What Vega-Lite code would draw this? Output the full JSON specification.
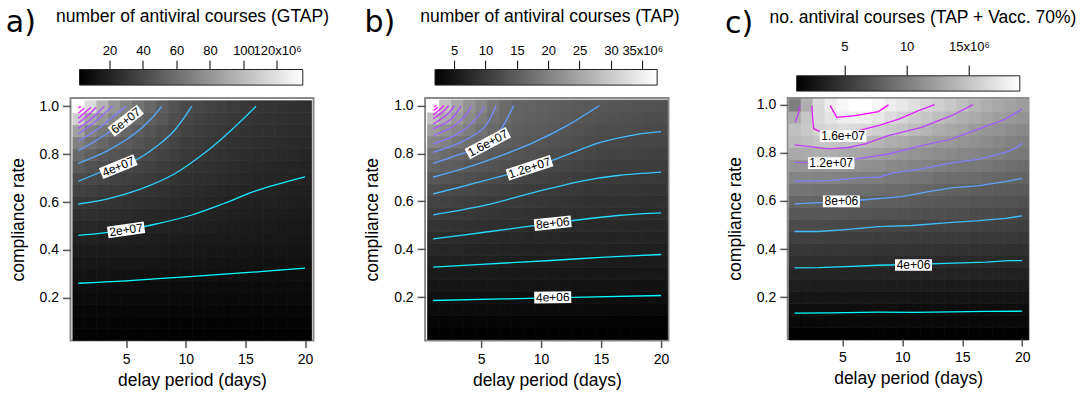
{
"$schema":"https://vega.github.io/schema/vega-lite/v6.json",
"background":"white",
"padding":{"left":5.5,"top":6.5,"right":4,"bottom":4},
"bounds":"flush",
"align":"each",
"columns":3,
"spacing":{"row":6.4,"column":111.6},
"resolve":{"scale":{"color":"independent","stroke":"independent"}},
"config":{"font":"Liberation Sans","view":{"stroke":"#8a8a8a","strokeWidth":2},"rect":{"binSpacing":0},"axis":{"labelColor":"#000","titleColor":"#000","titleFontWeight":"normal","labelFont":"Liberation Sans","titleFont":"Liberation Sans","grid":false,"domain":false}},
"datasets":{
"ha":[
{"d":1,"c":0.05,"v":3.5},{"d":2,"c":0.05,"v":3.5},{"d":3,"c":0.05,"v":3.5},{"d":4,"c":0.05,"v":3.5},{"d":5,"c":0.05,"v":3.5},{"d":6,"c":0.05,"v":3.5},{"d":7,"c":0.05,"v":3.5},{"d":8,"c":0.05,"v":3.4},{"d":9,"c":0.05,"v":3.4},{"d":10,"c":0.05,"v":3.4},{"d":11,"c":0.05,"v":3.4},{"d":12,"c":0.05,"v":3.4},{"d":13,"c":0.05,"v":3.3},{"d":14,"c":0.05,"v":3.3},{"d":15,"c":0.05,"v":3.3},{"d":16,"c":0.05,"v":3.3},{"d":17,"c":0.05,"v":3.3},{"d":18,"c":0.05,"v":3.2},{"d":19,"c":0.05,"v":3.2},{"d":20,"c":0.05,"v":3.2},
{"d":1,"c":0.1,"v":4.6},{"d":2,"c":0.1,"v":4.6},{"d":3,"c":0.1,"v":4.6},{"d":4,"c":0.1,"v":4.5},{"d":5,"c":0.1,"v":4.5},{"d":6,"c":0.1,"v":4.5},{"d":7,"c":0.1,"v":4.5},{"d":8,"c":0.1,"v":4.4},{"d":9,"c":0.1,"v":4.4},{"d":10,"c":0.1,"v":4.4},{"d":11,"c":0.1,"v":4.4},{"d":12,"c":0.1,"v":4.4},{"d":13,"c":0.1,"v":4.3},{"d":14,"c":0.1,"v":4.3},{"d":15,"c":0.1,"v":4.3},{"d":16,"c":0.1,"v":4.3},{"d":17,"c":0.1,"v":4.3},{"d":18,"c":0.1,"v":4.2},{"d":19,"c":0.1,"v":4.2},{"d":20,"c":0.1,"v":4.2},
{"d":1,"c":0.15,"v":6.0},{"d":2,"c":0.15,"v":6.0},{"d":3,"c":0.15,"v":5.9},{"d":4,"c":0.15,"v":5.9},{"d":5,"c":0.15,"v":5.8},{"d":6,"c":0.15,"v":5.8},{"d":7,"c":0.15,"v":5.7},{"d":8,"c":0.15,"v":5.7},{"d":9,"c":0.15,"v":5.6},{"d":10,"c":0.15,"v":5.6},{"d":11,"c":0.15,"v":5.6},{"d":12,"c":0.15,"v":5.5},{"d":13,"c":0.15,"v":5.5},{"d":14,"c":0.15,"v":5.4},{"d":15,"c":0.15,"v":5.4},{"d":16,"c":0.15,"v":5.4},{"d":17,"c":0.15,"v":5.4},{"d":18,"c":0.15,"v":5.3},{"d":19,"c":0.15,"v":5.3},{"d":20,"c":0.15,"v":5.3},
{"d":1,"c":0.2,"v":7.8},{"d":2,"c":0.2,"v":7.7},{"d":3,"c":0.2,"v":7.6},{"d":4,"c":0.2,"v":7.5},{"d":5,"c":0.2,"v":7.4},{"d":6,"c":0.2,"v":7.3},{"d":7,"c":0.2,"v":7.2},{"d":8,"c":0.2,"v":7.2},{"d":9,"c":0.2,"v":7.1},{"d":10,"c":0.2,"v":7.0},{"d":11,"c":0.2,"v":7.0},{"d":12,"c":0.2,"v":6.9},{"d":13,"c":0.2,"v":6.9},{"d":14,"c":0.2,"v":6.8},{"d":15,"c":0.2,"v":6.8},{"d":16,"c":0.2,"v":6.8},{"d":17,"c":0.2,"v":6.7},{"d":18,"c":0.2,"v":6.7},{"d":19,"c":0.2,"v":6.6},{"d":20,"c":0.2,"v":6.6},
{"d":1,"c":0.25,"v":9.6},{"d":2,"c":0.25,"v":9.5},{"d":3,"c":0.25,"v":9.4},{"d":4,"c":0.25,"v":9.3},{"d":5,"c":0.25,"v":9.2},{"d":6,"c":0.25,"v":9.1},{"d":7,"c":0.25,"v":9.0},{"d":8,"c":0.25,"v":8.8},{"d":9,"c":0.25,"v":8.7},{"d":10,"c":0.25,"v":8.6},{"d":11,"c":0.25,"v":8.5},{"d":12,"c":0.25,"v":8.5},{"d":13,"c":0.25,"v":8.4},{"d":14,"c":0.25,"v":8.4},{"d":15,"c":0.25,"v":8.3},{"d":16,"c":0.25,"v":8.2},{"d":17,"c":0.25,"v":8.2},{"d":18,"c":0.25,"v":8.1},{"d":19,"c":0.25,"v":8.1},{"d":20,"c":0.25,"v":8.0},
{"d":1,"c":0.3,"v":11.8},{"d":2,"c":0.3,"v":11.7},{"d":3,"c":0.3,"v":11.6},{"d":4,"c":0.3,"v":11.4},{"d":5,"c":0.3,"v":11.3},{"d":6,"c":0.3,"v":11.1},{"d":7,"c":0.3,"v":10.9},{"d":8,"c":0.3,"v":10.8},{"d":9,"c":0.3,"v":10.6},{"d":10,"c":0.3,"v":10.4},{"d":11,"c":0.3,"v":10.3},{"d":12,"c":0.3,"v":10.2},{"d":13,"c":0.3,"v":10.0},{"d":14,"c":0.3,"v":9.9},{"d":15,"c":0.3,"v":9.8},{"d":16,"c":0.3,"v":9.7},{"d":17,"c":0.3,"v":9.6},{"d":18,"c":0.3,"v":9.6},{"d":19,"c":0.3,"v":9.5},{"d":20,"c":0.3,"v":9.4},
{"d":1,"c":0.35,"v":14.0},{"d":2,"c":0.35,"v":13.9},{"d":3,"c":0.35,"v":13.8},{"d":4,"c":0.35,"v":13.7},{"d":5,"c":0.35,"v":13.6},{"d":6,"c":0.35,"v":13.4},{"d":7,"c":0.35,"v":13.2},{"d":8,"c":0.35,"v":12.9},{"d":9,"c":0.35,"v":12.7},{"d":10,"c":0.35,"v":12.5},{"d":11,"c":0.35,"v":12.3},{"d":12,"c":0.35,"v":12.1},{"d":13,"c":0.35,"v":11.8},{"d":14,"c":0.35,"v":11.6},{"d":15,"c":0.35,"v":11.4},{"d":16,"c":0.35,"v":11.3},{"d":17,"c":0.35,"v":11.1},{"d":18,"c":0.35,"v":11.0},{"d":19,"c":0.35,"v":10.8},{"d":20,"c":0.35,"v":10.7},
{"d":1,"c":0.4,"v":16.5},{"d":2,"c":0.4,"v":16.4},{"d":3,"c":0.4,"v":16.3},{"d":4,"c":0.4,"v":16.2},{"d":5,"c":0.4,"v":16.1},{"d":6,"c":0.4,"v":15.8},{"d":7,"c":0.4,"v":15.5},{"d":8,"c":0.4,"v":15.2},{"d":9,"c":0.4,"v":14.9},{"d":10,"c":0.4,"v":14.6},{"d":11,"c":0.4,"v":14.3},{"d":12,"c":0.4,"v":14.0},{"d":13,"c":0.4,"v":13.6},{"d":14,"c":0.4,"v":13.3},{"d":15,"c":0.4,"v":13.0},{"d":16,"c":0.4,"v":12.8},{"d":17,"c":0.4,"v":12.6},{"d":18,"c":0.4,"v":12.4},{"d":19,"c":0.4,"v":12.2},{"d":20,"c":0.4,"v":12.0},
{"d":1,"c":0.45,"v":19.5},{"d":2,"c":0.45,"v":19.3},{"d":3,"c":0.45,"v":19.0},{"d":4,"c":0.45,"v":18.8},{"d":5,"c":0.45,"v":18.5},{"d":6,"c":0.45,"v":18.1},{"d":7,"c":0.45,"v":17.8},{"d":8,"c":0.45,"v":17.4},{"d":9,"c":0.45,"v":17.1},{"d":10,"c":0.45,"v":16.7},{"d":11,"c":0.45,"v":16.3},{"d":12,"c":0.45,"v":15.9},{"d":13,"c":0.45,"v":15.5},{"d":14,"c":0.45,"v":15.1},{"d":15,"c":0.45,"v":14.7},{"d":16,"c":0.45,"v":14.4},{"d":17,"c":0.45,"v":14.2},{"d":18,"c":0.45,"v":13.9},{"d":19,"c":0.45,"v":13.6},{"d":20,"c":0.45,"v":13.3},
{"d":1,"c":0.5,"v":22.8},{"d":2,"c":0.5,"v":22.4},{"d":3,"c":0.5,"v":22.0},{"d":4,"c":0.5,"v":21.5},{"d":5,"c":0.5,"v":21.1},{"d":6,"c":0.5,"v":20.6},{"d":7,"c":0.5,"v":20.2},{"d":8,"c":0.5,"v":19.7},{"d":9,"c":0.5,"v":19.3},{"d":10,"c":0.5,"v":18.8},{"d":11,"c":0.5,"v":18.3},{"d":12,"c":0.5,"v":17.8},{"d":13,"c":0.5,"v":17.3},{"d":14,"c":0.5,"v":16.8},{"d":15,"c":0.5,"v":16.3},{"d":16,"c":0.5,"v":16.0},{"d":17,"c":0.5,"v":15.6},{"d":18,"c":0.5,"v":15.3},{"d":19,"c":0.5,"v":14.9},{"d":20,"c":0.5,"v":14.6},
{"d":1,"c":0.55,"v":26.8},{"d":2,"c":0.55,"v":26.2},{"d":3,"c":0.55,"v":25.6},{"d":4,"c":0.55,"v":25.0},{"d":5,"c":0.55,"v":24.4},{"d":6,"c":0.55,"v":23.7},{"d":7,"c":0.55,"v":23.0},{"d":8,"c":0.55,"v":22.3},{"d":9,"c":0.55,"v":21.6},{"d":10,"c":0.55,"v":20.9},{"d":11,"c":0.55,"v":20.3},{"d":12,"c":0.55,"v":19.7},{"d":13,"c":0.55,"v":19.1},{"d":14,"c":0.55,"v":18.5},{"d":15,"c":0.55,"v":17.9},{"d":16,"c":0.55,"v":17.5},{"d":17,"c":0.55,"v":17.1},{"d":18,"c":0.55,"v":16.7},{"d":19,"c":0.55,"v":16.3},{"d":20,"c":0.55,"v":15.9},
{"d":1,"c":0.6,"v":30.9},{"d":2,"c":0.6,"v":30.1},{"d":3,"c":0.6,"v":29.3},{"d":4,"c":0.6,"v":28.5},{"d":5,"c":0.6,"v":27.7},{"d":6,"c":0.6,"v":26.8},{"d":7,"c":0.6,"v":25.8},{"d":8,"c":0.6,"v":24.9},{"d":9,"c":0.6,"v":23.9},{"d":10,"c":0.6,"v":23.0},{"d":11,"c":0.6,"v":22.3},{"d":12,"c":0.6,"v":21.6},{"d":13,"c":0.6,"v":20.9},{"d":14,"c":0.6,"v":20.2},{"d":15,"c":0.6,"v":19.5},{"d":16,"c":0.6,"v":19.0},{"d":17,"c":0.6,"v":18.6},{"d":18,"c":0.6,"v":18.1},{"d":19,"c":0.6,"v":17.7},{"d":20,"c":0.6,"v":17.2},
{"d":1,"c":0.65,"v":36.0},{"d":2,"c":0.65,"v":34.8},{"d":3,"c":0.65,"v":33.7},{"d":4,"c":0.65,"v":32.5},{"d":5,"c":0.65,"v":31.3},{"d":6,"c":0.65,"v":30.1},{"d":7,"c":0.65,"v":28.9},{"d":8,"c":0.65,"v":27.6},{"d":9,"c":0.65,"v":26.4},{"d":10,"c":0.65,"v":25.2},{"d":11,"c":0.65,"v":24.4},{"d":12,"c":0.65,"v":23.5},{"d":13,"c":0.65,"v":22.7},{"d":14,"c":0.65,"v":21.8},{"d":15,"c":0.65,"v":21.0},{"d":16,"c":0.65,"v":20.5},{"d":17,"c":0.65,"v":20.0},{"d":18,"c":0.65,"v":19.5},{"d":19,"c":0.65,"v":19.0},{"d":20,"c":0.65,"v":18.5},
{"d":1,"c":0.7,"v":41.5},{"d":2,"c":0.7,"v":40.0},{"d":3,"c":0.7,"v":38.5},{"d":4,"c":0.7,"v":37.0},{"d":5,"c":0.7,"v":35.5},{"d":6,"c":0.7,"v":33.9},{"d":7,"c":0.7,"v":32.2},{"d":8,"c":0.7,"v":30.6},{"d":9,"c":0.7,"v":29.0},{"d":10,"c":0.7,"v":27.4},{"d":11,"c":0.7,"v":26.4},{"d":12,"c":0.7,"v":25.4},{"d":13,"c":0.7,"v":24.4},{"d":14,"c":0.7,"v":23.4},{"d":15,"c":0.7,"v":22.4},{"d":16,"c":0.7,"v":21.9},{"d":17,"c":0.7,"v":21.4},{"d":18,"c":0.7,"v":20.9},{"d":19,"c":0.7,"v":20.4},{"d":20,"c":0.7,"v":19.9},
{"d":1,"c":0.75,"v":48.5},{"d":2,"c":0.75,"v":45.0},{"d":3,"c":0.75,"v":43.0},{"d":4,"c":0.75,"v":41.0},{"d":5,"c":0.75,"v":39.7},{"d":6,"c":0.75,"v":37.5},{"d":7,"c":0.75,"v":36.0},{"d":8,"c":0.75,"v":34.0},{"d":9,"c":0.75,"v":32.0},{"d":10,"c":0.75,"v":29.6},{"d":11,"c":0.75,"v":28.4},{"d":12,"c":0.75,"v":27.3},{"d":13,"c":0.75,"v":26.1},{"d":14,"c":0.75,"v":24.9},{"d":15,"c":0.75,"v":23.8},{"d":16,"c":0.75,"v":23.2},{"d":17,"c":0.75,"v":22.6},{"d":18,"c":0.75,"v":22.1},{"d":19,"c":0.75,"v":21.5},{"d":20,"c":0.75,"v":21.0},
{"d":1,"c":0.8,"v":57.0},{"d":2,"c":0.8,"v":51.5},{"d":3,"c":0.8,"v":48.0},{"d":4,"c":0.8,"v":46.0},{"d":5,"c":0.8,"v":44.2},{"d":6,"c":0.8,"v":41.5},{"d":7,"c":0.8,"v":39.5},{"d":8,"c":0.8,"v":37.0},{"d":9,"c":0.8,"v":34.5},{"d":10,"c":0.8,"v":31.8},{"d":11,"c":0.8,"v":30.5},{"d":12,"c":0.8,"v":29.2},{"d":13,"c":0.8,"v":27.9},{"d":14,"c":0.8,"v":26.5},{"d":15,"c":0.8,"v":25.2},{"d":16,"c":0.8,"v":24.6},{"d":17,"c":0.8,"v":24.0},{"d":18,"c":0.8,"v":23.4},{"d":19,"c":0.8,"v":22.8},{"d":20,"c":0.8,"v":22.2},
{"d":1,"c":0.85,"v":69.0},{"d":2,"c":0.85,"v":61.0},{"d":3,"c":0.85,"v":55.8},{"d":4,"c":0.85,"v":51.0},{"d":5,"c":0.85,"v":48.7},{"d":6,"c":0.85,"v":46.0},{"d":7,"c":0.85,"v":43.0},{"d":8,"c":0.85,"v":40.0},{"d":9,"c":0.85,"v":37.0},{"d":10,"c":0.85,"v":34.1},{"d":11,"c":0.85,"v":32.6},{"d":12,"c":0.85,"v":31.1},{"d":13,"c":0.85,"v":29.6},{"d":14,"c":0.85,"v":28.1},{"d":15,"c":0.85,"v":26.6},{"d":16,"c":0.85,"v":26.0},{"d":17,"c":0.85,"v":25.3},{"d":18,"c":0.85,"v":24.6},{"d":19,"c":0.85,"v":24.0},{"d":20,"c":0.85,"v":23.3},
{"d":1,"c":0.9,"v":86.0},{"d":2,"c":0.9,"v":70.5},{"d":3,"c":0.9,"v":64.0},{"d":4,"c":0.9,"v":60.0},{"d":5,"c":0.9,"v":55.8},{"d":6,"c":0.9,"v":50.5},{"d":7,"c":0.9,"v":46.5},{"d":8,"c":0.9,"v":43.0},{"d":9,"c":0.9,"v":39.5},{"d":10,"c":0.9,"v":36.4},{"d":11,"c":0.9,"v":34.7},{"d":12,"c":0.9,"v":33.1},{"d":13,"c":0.9,"v":31.4},{"d":14,"c":0.9,"v":29.7},{"d":15,"c":0.9,"v":28.0},{"d":16,"c":0.9,"v":27.3},{"d":17,"c":0.9,"v":26.6},{"d":18,"c":0.9,"v":25.8},{"d":19,"c":0.9,"v":25.1},{"d":20,"c":0.9,"v":24.4},
{"d":1,"c":0.95,"v":110.0},{"d":2,"c":0.95,"v":90.0},{"d":3,"c":0.95,"v":80.0},{"d":4,"c":0.95,"v":71.0},{"d":5,"c":0.95,"v":63.0},{"d":6,"c":0.95,"v":57.0},{"d":7,"c":0.95,"v":52.0},{"d":8,"c":0.95,"v":48.0},{"d":9,"c":0.95,"v":43.0},{"d":10,"c":0.95,"v":38.6},{"d":11,"c":0.95,"v":36.8},{"d":12,"c":0.95,"v":34.9},{"d":13,"c":0.95,"v":33.1},{"d":14,"c":0.95,"v":31.2},{"d":15,"c":0.95,"v":29.4},{"d":16,"c":0.95,"v":28.7},{"d":17,"c":0.95,"v":27.9},{"d":18,"c":0.95,"v":27.1},{"d":19,"c":0.95,"v":26.3},{"d":20,"c":0.95,"v":25.5},
{"d":1,"c":1.0,"v":135.0},{"d":2,"c":1.0,"v":117.0},{"d":3,"c":1.0,"v":96.0},{"d":4,"c":1.0,"v":80.0},{"d":5,"c":1.0,"v":70.0},{"d":6,"c":1.0,"v":62.0},{"d":7,"c":1.0,"v":56.0},{"d":8,"c":1.0,"v":50.0},{"d":9,"c":1.0,"v":45.0},{"d":10,"c":1.0,"v":41.0},{"d":11,"c":1.0,"v":39.0},{"d":12,"c":1.0,"v":37.0},{"d":13,"c":1.0,"v":35.0},{"d":14,"c":1.0,"v":33.0},{"d":15,"c":1.0,"v":31.0},{"d":16,"c":1.0,"v":30.0},{"d":17,"c":1.0,"v":29.0},{"d":18,"c":1.0,"v":28.0},{"d":19,"c":1.0,"v":27.3},{"d":20,"c":1.0,"v":26.6}
],
"hb":[
{"d":1,"c":0.05,"v":2.0},{"d":2,"c":0.05,"v":2.0},{"d":3,"c":0.05,"v":2.0},{"d":4,"c":0.05,"v":2.0},{"d":5,"c":0.05,"v":2.0},{"d":6,"c":0.05,"v":2.0},{"d":7,"c":0.05,"v":2.0},{"d":8,"c":0.05,"v":2.0},{"d":9,"c":0.05,"v":2.0},{"d":10,"c":0.05,"v":2.0},{"d":11,"c":0.05,"v":2.0},{"d":12,"c":0.05,"v":2.0},{"d":13,"c":0.05,"v":2.0},{"d":14,"c":0.05,"v":1.9},{"d":15,"c":0.05,"v":1.9},{"d":16,"c":0.05,"v":1.9},{"d":17,"c":0.05,"v":1.9},{"d":18,"c":0.05,"v":1.9},{"d":19,"c":0.05,"v":1.9},{"d":20,"c":0.05,"v":1.9},
{"d":1,"c":0.1,"v":2.6},{"d":2,"c":0.1,"v":2.6},{"d":3,"c":0.1,"v":2.6},{"d":4,"c":0.1,"v":2.6},{"d":5,"c":0.1,"v":2.6},{"d":6,"c":0.1,"v":2.6},{"d":7,"c":0.1,"v":2.6},{"d":8,"c":0.1,"v":2.6},{"d":9,"c":0.1,"v":2.6},{"d":10,"c":0.1,"v":2.6},{"d":11,"c":0.1,"v":2.5},{"d":12,"c":0.1,"v":2.5},{"d":13,"c":0.1,"v":2.5},{"d":14,"c":0.1,"v":2.5},{"d":15,"c":0.1,"v":2.5},{"d":16,"c":0.1,"v":2.5},{"d":17,"c":0.1,"v":2.5},{"d":18,"c":0.1,"v":2.5},{"d":19,"c":0.1,"v":2.5},{"d":20,"c":0.1,"v":2.5},
{"d":1,"c":0.15,"v":3.4},{"d":2,"c":0.15,"v":3.4},{"d":3,"c":0.15,"v":3.4},{"d":4,"c":0.15,"v":3.4},{"d":5,"c":0.15,"v":3.4},{"d":6,"c":0.15,"v":3.4},{"d":7,"c":0.15,"v":3.4},{"d":8,"c":0.15,"v":3.3},{"d":9,"c":0.15,"v":3.3},{"d":10,"c":0.15,"v":3.3},{"d":11,"c":0.15,"v":3.3},{"d":12,"c":0.15,"v":3.3},{"d":13,"c":0.15,"v":3.3},{"d":14,"c":0.15,"v":3.3},{"d":15,"c":0.15,"v":3.3},{"d":16,"c":0.15,"v":3.2},{"d":17,"c":0.15,"v":3.2},{"d":18,"c":0.15,"v":3.2},{"d":19,"c":0.15,"v":3.2},{"d":20,"c":0.15,"v":3.2},
{"d":1,"c":0.2,"v":4.2},{"d":2,"c":0.2,"v":4.2},{"d":3,"c":0.2,"v":4.2},{"d":4,"c":0.2,"v":4.1},{"d":5,"c":0.2,"v":4.1},{"d":6,"c":0.2,"v":4.1},{"d":7,"c":0.2,"v":4.1},{"d":8,"c":0.2,"v":4.0},{"d":9,"c":0.2,"v":4.0},{"d":10,"c":0.2,"v":4.0},{"d":11,"c":0.2,"v":4.0},{"d":12,"c":0.2,"v":4.0},{"d":13,"c":0.2,"v":4.0},{"d":14,"c":0.2,"v":4.0},{"d":15,"c":0.2,"v":4.0},{"d":16,"c":0.2,"v":3.9},{"d":17,"c":0.2,"v":3.9},{"d":18,"c":0.2,"v":3.9},{"d":19,"c":0.2,"v":3.9},{"d":20,"c":0.2,"v":3.9},
{"d":1,"c":0.25,"v":4.9},{"d":2,"c":0.25,"v":4.9},{"d":3,"c":0.25,"v":4.9},{"d":4,"c":0.25,"v":4.8},{"d":5,"c":0.25,"v":4.8},{"d":6,"c":0.25,"v":4.8},{"d":7,"c":0.25,"v":4.8},{"d":8,"c":0.25,"v":4.7},{"d":9,"c":0.25,"v":4.7},{"d":10,"c":0.25,"v":4.7},{"d":11,"c":0.25,"v":4.7},{"d":12,"c":0.25,"v":4.7},{"d":13,"c":0.25,"v":4.6},{"d":14,"c":0.25,"v":4.6},{"d":15,"c":0.25,"v":4.6},{"d":16,"c":0.25,"v":4.6},{"d":17,"c":0.25,"v":4.6},{"d":18,"c":0.25,"v":4.5},{"d":19,"c":0.25,"v":4.5},{"d":20,"c":0.25,"v":4.5},
{"d":1,"c":0.3,"v":5.6},{"d":2,"c":0.3,"v":5.6},{"d":3,"c":0.3,"v":5.6},{"d":4,"c":0.3,"v":5.5},{"d":5,"c":0.3,"v":5.5},{"d":6,"c":0.3,"v":5.5},{"d":7,"c":0.3,"v":5.4},{"d":8,"c":0.3,"v":5.4},{"d":9,"c":0.3,"v":5.4},{"d":10,"c":0.3,"v":5.4},{"d":11,"c":0.3,"v":5.3},{"d":12,"c":0.3,"v":5.3},{"d":13,"c":0.3,"v":5.3},{"d":14,"c":0.3,"v":5.2},{"d":15,"c":0.3,"v":5.2},{"d":16,"c":0.3,"v":5.2},{"d":17,"c":0.3,"v":5.2},{"d":18,"c":0.3,"v":5.1},{"d":19,"c":0.3,"v":5.1},{"d":20,"c":0.3,"v":5.1},
{"d":1,"c":0.35,"v":6.4},{"d":2,"c":0.35,"v":6.4},{"d":3,"c":0.35,"v":6.3},{"d":4,"c":0.35,"v":6.3},{"d":5,"c":0.35,"v":6.2},{"d":6,"c":0.35,"v":6.2},{"d":7,"c":0.35,"v":6.1},{"d":8,"c":0.35,"v":6.1},{"d":9,"c":0.35,"v":6.0},{"d":10,"c":0.35,"v":6.0},{"d":11,"c":0.35,"v":6.0},{"d":12,"c":0.35,"v":5.9},{"d":13,"c":0.35,"v":5.9},{"d":14,"c":0.35,"v":5.8},{"d":15,"c":0.35,"v":5.8},{"d":16,"c":0.35,"v":5.8},{"d":17,"c":0.35,"v":5.8},{"d":18,"c":0.35,"v":5.7},{"d":19,"c":0.35,"v":5.7},{"d":20,"c":0.35,"v":5.7},
{"d":1,"c":0.4,"v":7.3},{"d":2,"c":0.4,"v":7.2},{"d":3,"c":0.4,"v":7.2},{"d":4,"c":0.4,"v":7.1},{"d":5,"c":0.4,"v":7.0},{"d":6,"c":0.4,"v":6.9},{"d":7,"c":0.4,"v":6.8},{"d":8,"c":0.4,"v":6.8},{"d":9,"c":0.4,"v":6.7},{"d":10,"c":0.4,"v":6.6},{"d":11,"c":0.4,"v":6.6},{"d":12,"c":0.4,"v":6.6},{"d":13,"c":0.4,"v":6.5},{"d":14,"c":0.4,"v":6.5},{"d":15,"c":0.4,"v":6.5},{"d":16,"c":0.4,"v":6.4},{"d":17,"c":0.4,"v":6.4},{"d":18,"c":0.4,"v":6.3},{"d":19,"c":0.4,"v":6.3},{"d":20,"c":0.4,"v":6.3},
{"d":1,"c":0.45,"v":8.1},{"d":2,"c":0.45,"v":8.0},{"d":3,"c":0.45,"v":7.9},{"d":4,"c":0.45,"v":7.8},{"d":5,"c":0.45,"v":7.7},{"d":6,"c":0.45,"v":7.6},{"d":7,"c":0.45,"v":7.5},{"d":8,"c":0.45,"v":7.5},{"d":9,"c":0.45,"v":7.4},{"d":10,"c":0.45,"v":7.3},{"d":11,"c":0.45,"v":7.2},{"d":12,"c":0.45,"v":7.2},{"d":13,"c":0.45,"v":7.1},{"d":14,"c":0.45,"v":7.1},{"d":15,"c":0.45,"v":7.0},{"d":16,"c":0.45,"v":7.0},{"d":17,"c":0.45,"v":6.9},{"d":18,"c":0.45,"v":6.9},{"d":19,"c":0.45,"v":6.8},{"d":20,"c":0.45,"v":6.8},
{"d":1,"c":0.5,"v":9.1},{"d":2,"c":0.5,"v":9.0},{"d":3,"c":0.5,"v":8.9},{"d":4,"c":0.5,"v":8.7},{"d":5,"c":0.5,"v":8.6},{"d":6,"c":0.5,"v":8.5},{"d":7,"c":0.5,"v":8.4},{"d":8,"c":0.5,"v":8.2},{"d":9,"c":0.5,"v":8.1},{"d":10,"c":0.5,"v":8.0},{"d":11,"c":0.5,"v":7.9},{"d":12,"c":0.5,"v":7.8},{"d":13,"c":0.5,"v":7.8},{"d":14,"c":0.5,"v":7.7},{"d":15,"c":0.5,"v":7.6},{"d":16,"c":0.5,"v":7.6},{"d":17,"c":0.5,"v":7.5},{"d":18,"c":0.5,"v":7.5},{"d":19,"c":0.5,"v":7.4},{"d":20,"c":0.5,"v":7.4},
{"d":1,"c":0.55,"v":10.1},{"d":2,"c":0.55,"v":10.0},{"d":3,"c":0.55,"v":9.8},{"d":4,"c":0.55,"v":9.7},{"d":5,"c":0.55,"v":9.5},{"d":6,"c":0.55,"v":9.3},{"d":7,"c":0.55,"v":9.2},{"d":8,"c":0.55,"v":9.0},{"d":9,"c":0.55,"v":8.9},{"d":10,"c":0.55,"v":8.7},{"d":11,"c":0.55,"v":8.6},{"d":12,"c":0.55,"v":8.5},{"d":13,"c":0.55,"v":8.4},{"d":14,"c":0.55,"v":8.3},{"d":15,"c":0.55,"v":8.2},{"d":16,"c":0.55,"v":8.2},{"d":17,"c":0.55,"v":8.1},{"d":18,"c":0.55,"v":8.1},{"d":19,"c":0.55,"v":8.0},{"d":20,"c":0.55,"v":8.0},
{"d":1,"c":0.6,"v":11.3},{"d":2,"c":0.6,"v":11.1},{"d":3,"c":0.6,"v":10.9},{"d":4,"c":0.6,"v":10.6},{"d":5,"c":0.6,"v":10.4},{"d":6,"c":0.6,"v":10.2},{"d":7,"c":0.6,"v":10.0},{"d":8,"c":0.6,"v":9.8},{"d":9,"c":0.6,"v":9.6},{"d":10,"c":0.6,"v":9.4},{"d":11,"c":0.6,"v":9.3},{"d":12,"c":0.6,"v":9.2},{"d":13,"c":0.6,"v":9.0},{"d":14,"c":0.6,"v":8.9},{"d":15,"c":0.6,"v":8.8},{"d":16,"c":0.6,"v":8.8},{"d":17,"c":0.6,"v":8.7},{"d":18,"c":0.6,"v":8.7},{"d":19,"c":0.6,"v":8.6},{"d":20,"c":0.6,"v":8.6},
{"d":1,"c":0.65,"v":12.5},{"d":2,"c":0.65,"v":12.2},{"d":3,"c":0.65,"v":12.0},{"d":4,"c":0.65,"v":11.7},{"d":5,"c":0.65,"v":11.4},{"d":6,"c":0.65,"v":11.1},{"d":7,"c":0.65,"v":10.9},{"d":8,"c":0.65,"v":10.6},{"d":9,"c":0.65,"v":10.4},{"d":10,"c":0.65,"v":10.1},{"d":11,"c":0.65,"v":10.0},{"d":12,"c":0.65,"v":9.8},{"d":13,"c":0.65,"v":9.7},{"d":14,"c":0.65,"v":9.5},{"d":15,"c":0.65,"v":9.4},{"d":16,"c":0.65,"v":9.4},{"d":17,"c":0.65,"v":9.3},{"d":18,"c":0.65,"v":9.3},{"d":19,"c":0.65,"v":9.2},{"d":20,"c":0.65,"v":9.2},
{"d":1,"c":0.7,"v":14.0},{"d":2,"c":0.7,"v":13.6},{"d":3,"c":0.7,"v":13.3},{"d":4,"c":0.7,"v":12.9},{"d":5,"c":0.7,"v":12.5},{"d":6,"c":0.7,"v":12.2},{"d":7,"c":0.7,"v":11.9},{"d":8,"c":0.7,"v":11.7},{"d":9,"c":0.7,"v":11.4},{"d":10,"c":0.7,"v":11.1},{"d":11,"c":0.7,"v":10.9},{"d":12,"c":0.7,"v":10.7},{"d":13,"c":0.7,"v":10.4},{"d":14,"c":0.7,"v":10.2},{"d":15,"c":0.7,"v":10.0},{"d":16,"c":0.7,"v":9.9},{"d":17,"c":0.7,"v":9.9},{"d":18,"c":0.7,"v":9.8},{"d":19,"c":0.7,"v":9.8},{"d":20,"c":0.7,"v":9.7},
{"d":1,"c":0.75,"v":15.7},{"d":2,"c":0.75,"v":15.2},{"d":3,"c":0.75,"v":14.7},{"d":4,"c":0.75,"v":14.2},{"d":5,"c":0.75,"v":13.7},{"d":6,"c":0.75,"v":13.4},{"d":7,"c":0.75,"v":13.0},{"d":8,"c":0.75,"v":12.7},{"d":9,"c":0.75,"v":12.3},{"d":10,"c":0.75,"v":12.0},{"d":11,"c":0.75,"v":11.7},{"d":12,"c":0.75,"v":11.5},{"d":13,"c":0.75,"v":11.2},{"d":14,"c":0.75,"v":11.0},{"d":15,"c":0.75,"v":10.7},{"d":16,"c":0.75,"v":10.6},{"d":17,"c":0.75,"v":10.5},{"d":18,"c":0.75,"v":10.5},{"d":19,"c":0.75,"v":10.4},{"d":20,"c":0.75,"v":10.3},
{"d":1,"c":0.8,"v":17.8},{"d":2,"c":0.8,"v":16.9},{"d":3,"c":0.8,"v":16.3},{"d":4,"c":0.8,"v":15.7},{"d":5,"c":0.8,"v":15.1},{"d":6,"c":0.8,"v":14.5},{"d":7,"c":0.8,"v":14.0},{"d":8,"c":0.8,"v":13.6},{"d":9,"c":0.8,"v":13.2},{"d":10,"c":0.8,"v":12.9},{"d":11,"c":0.8,"v":12.6},{"d":12,"c":0.8,"v":12.3},{"d":13,"c":0.8,"v":12.0},{"d":14,"c":0.8,"v":11.7},{"d":15,"c":0.8,"v":11.4},{"d":16,"c":0.8,"v":11.3},{"d":17,"c":0.8,"v":11.2},{"d":18,"c":0.8,"v":11.1},{"d":19,"c":0.8,"v":11.0},{"d":20,"c":0.8,"v":10.9},
{"d":1,"c":0.85,"v":20.6},{"d":2,"c":0.85,"v":19.8},{"d":3,"c":0.85,"v":18.5},{"d":4,"c":0.85,"v":17.4},{"d":5,"c":0.85,"v":16.6},{"d":6,"c":0.85,"v":15.8},{"d":7,"c":0.85,"v":14.8},{"d":8,"c":0.85,"v":14.4},{"d":9,"c":0.85,"v":14.0},{"d":10,"c":0.85,"v":13.8},{"d":11,"c":0.85,"v":13.4},{"d":12,"c":0.85,"v":13.1},{"d":13,"c":0.85,"v":12.7},{"d":14,"c":0.85,"v":12.4},{"d":15,"c":0.85,"v":12.0},{"d":16,"c":0.85,"v":11.9},{"d":17,"c":0.85,"v":11.8},{"d":18,"c":0.85,"v":11.7},{"d":19,"c":0.85,"v":11.6},{"d":20,"c":0.85,"v":11.5},
{"d":1,"c":0.9,"v":23.8},{"d":2,"c":0.9,"v":22.0},{"d":3,"c":0.9,"v":20.8},{"d":4,"c":0.9,"v":19.3},{"d":5,"c":0.9,"v":18.0},{"d":6,"c":0.9,"v":16.7},{"d":7,"c":0.9,"v":15.6},{"d":8,"c":0.9,"v":15.0},{"d":9,"c":0.9,"v":14.7},{"d":10,"c":0.9,"v":14.5},{"d":11,"c":0.9,"v":14.1},{"d":12,"c":0.9,"v":13.8},{"d":13,"c":0.9,"v":13.4},{"d":14,"c":0.9,"v":13.1},{"d":15,"c":0.9,"v":12.7},{"d":16,"c":0.9,"v":12.6},{"d":17,"c":0.9,"v":12.5},{"d":18,"c":0.9,"v":12.3},{"d":19,"c":0.9,"v":12.2},{"d":20,"c":0.9,"v":12.1},
{"d":1,"c":0.95,"v":28.6},{"d":2,"c":0.95,"v":25.6},{"d":3,"c":0.95,"v":23.4},{"d":4,"c":0.95,"v":21.1},{"d":5,"c":0.95,"v":19.3},{"d":6,"c":0.95,"v":17.5},{"d":7,"c":0.95,"v":16.5},{"d":8,"c":0.95,"v":15.5},{"d":9,"c":0.95,"v":15.2},{"d":10,"c":0.95,"v":15.0},{"d":11,"c":0.95,"v":14.7},{"d":12,"c":0.95,"v":14.3},{"d":13,"c":0.95,"v":14.0},{"d":14,"c":0.95,"v":13.6},{"d":15,"c":0.95,"v":13.3},{"d":16,"c":0.95,"v":13.2},{"d":17,"c":0.95,"v":13.0},{"d":18,"c":0.95,"v":12.9},{"d":19,"c":0.95,"v":12.7},{"d":20,"c":0.95,"v":12.6},
{"d":1,"c":1.0,"v":37.0},{"d":2,"c":1.0,"v":28.6},{"d":3,"c":1.0,"v":25.2},{"d":4,"c":1.0,"v":22.4},{"d":5,"c":1.0,"v":20.6},{"d":6,"c":1.0,"v":18.5},{"d":7,"c":1.0,"v":17.0},{"d":8,"c":1.0,"v":15.9},{"d":9,"c":1.0,"v":15.6},{"d":10,"c":1.0,"v":15.3},{"d":11,"c":1.0,"v":15.0},{"d":12,"c":1.0,"v":14.8},{"d":13,"c":1.0,"v":14.5},{"d":14,"c":1.0,"v":14.3},{"d":15,"c":1.0,"v":14.0},{"d":16,"c":1.0,"v":13.8},{"d":17,"c":1.0,"v":13.6},{"d":18,"c":1.0,"v":13.5},{"d":19,"c":1.0,"v":13.3},{"d":20,"c":1.0,"v":13.2}
],
"hc":[
{"d":1,"c":0.05,"v":1.25},{"d":2,"c":0.05,"v":1.25},{"d":3,"c":0.05,"v":1.25},{"d":4,"c":0.05,"v":1.25},{"d":5,"c":0.05,"v":1.25},{"d":6,"c":0.05,"v":1.25},{"d":7,"c":0.05,"v":1.25},{"d":8,"c":0.05,"v":1.25},{"d":9,"c":0.05,"v":1.25},{"d":10,"c":0.05,"v":1.25},{"d":11,"c":0.05,"v":1.25},{"d":12,"c":0.05,"v":1.25},{"d":13,"c":0.05,"v":1.25},{"d":14,"c":0.05,"v":1.25},{"d":15,"c":0.05,"v":1.25},{"d":16,"c":0.05,"v":1.25},{"d":17,"c":0.05,"v":1.25},{"d":18,"c":0.05,"v":1.25},{"d":19,"c":0.05,"v":1.25},{"d":20,"c":0.05,"v":1.25},
{"d":1,"c":0.1,"v":1.7},{"d":2,"c":0.1,"v":1.7},{"d":3,"c":0.1,"v":1.7},{"d":4,"c":0.1,"v":1.7},{"d":5,"c":0.1,"v":1.7},{"d":6,"c":0.1,"v":1.7},{"d":7,"c":0.1,"v":1.7},{"d":8,"c":0.1,"v":1.7},{"d":9,"c":0.1,"v":1.7},{"d":10,"c":0.1,"v":1.7},{"d":11,"c":0.1,"v":1.7},{"d":12,"c":0.1,"v":1.7},{"d":13,"c":0.1,"v":1.7},{"d":14,"c":0.1,"v":1.7},{"d":15,"c":0.1,"v":1.7},{"d":16,"c":0.1,"v":1.7},{"d":17,"c":0.1,"v":1.7},{"d":18,"c":0.1,"v":1.7},{"d":19,"c":0.1,"v":1.7},{"d":20,"c":0.1,"v":1.7},
{"d":1,"c":0.15,"v":2.2},{"d":2,"c":0.15,"v":2.2},{"d":3,"c":0.15,"v":2.2},{"d":4,"c":0.15,"v":2.2},{"d":5,"c":0.15,"v":2.15},{"d":6,"c":0.15,"v":2.15},{"d":7,"c":0.15,"v":2.15},{"d":8,"c":0.15,"v":2.15},{"d":9,"c":0.15,"v":2.15},{"d":10,"c":0.15,"v":2.1},{"d":11,"c":0.15,"v":2.1},{"d":12,"c":0.15,"v":2.1},{"d":13,"c":0.15,"v":2.1},{"d":14,"c":0.15,"v":2.1},{"d":15,"c":0.15,"v":2.1},{"d":16,"c":0.15,"v":2.1},{"d":17,"c":0.15,"v":2.1},{"d":18,"c":0.15,"v":2.1},{"d":19,"c":0.15,"v":2.1},{"d":20,"c":0.15,"v":2.1},
{"d":1,"c":0.2,"v":2.7},{"d":2,"c":0.2,"v":2.7},{"d":3,"c":0.2,"v":2.7},{"d":4,"c":0.2,"v":2.7},{"d":5,"c":0.2,"v":2.7},{"d":6,"c":0.2,"v":2.7},{"d":7,"c":0.2,"v":2.65},{"d":8,"c":0.2,"v":2.65},{"d":9,"c":0.2,"v":2.65},{"d":10,"c":0.2,"v":2.65},{"d":11,"c":0.2,"v":2.6},{"d":12,"c":0.2,"v":2.6},{"d":13,"c":0.2,"v":2.6},{"d":14,"c":0.2,"v":2.6},{"d":15,"c":0.2,"v":2.6},{"d":16,"c":0.2,"v":2.6},{"d":17,"c":0.2,"v":2.55},{"d":18,"c":0.2,"v":2.55},{"d":19,"c":0.2,"v":2.55},{"d":20,"c":0.2,"v":2.55},
{"d":1,"c":0.25,"v":3.25},{"d":2,"c":0.25,"v":3.25},{"d":3,"c":0.25,"v":3.2},{"d":4,"c":0.25,"v":3.2},{"d":5,"c":0.25,"v":3.2},{"d":6,"c":0.25,"v":3.2},{"d":7,"c":0.25,"v":3.2},{"d":8,"c":0.25,"v":3.2},{"d":9,"c":0.25,"v":3.15},{"d":10,"c":0.25,"v":3.15},{"d":11,"c":0.25,"v":3.15},{"d":12,"c":0.25,"v":3.15},{"d":13,"c":0.25,"v":3.1},{"d":14,"c":0.25,"v":3.1},{"d":15,"c":0.25,"v":3.1},{"d":16,"c":0.25,"v":3.1},{"d":17,"c":0.25,"v":3.05},{"d":18,"c":0.25,"v":3.05},{"d":19,"c":0.25,"v":3.05},{"d":20,"c":0.25,"v":3.0},
{"d":1,"c":0.3,"v":3.8},{"d":2,"c":0.3,"v":3.8},{"d":3,"c":0.3,"v":3.8},{"d":4,"c":0.3,"v":3.75},{"d":5,"c":0.3,"v":3.75},{"d":6,"c":0.3,"v":3.75},{"d":7,"c":0.3,"v":3.7},{"d":8,"c":0.3,"v":3.7},{"d":9,"c":0.3,"v":3.7},{"d":10,"c":0.3,"v":3.7},{"d":11,"c":0.3,"v":3.7},{"d":12,"c":0.3,"v":3.65},{"d":13,"c":0.3,"v":3.65},{"d":14,"c":0.3,"v":3.6},{"d":15,"c":0.3,"v":3.6},{"d":16,"c":0.3,"v":3.6},{"d":17,"c":0.3,"v":3.55},{"d":18,"c":0.3,"v":3.55},{"d":19,"c":0.3,"v":3.5},{"d":20,"c":0.3,"v":3.5},
{"d":1,"c":0.35,"v":4.4},{"d":2,"c":0.35,"v":4.4},{"d":3,"c":0.35,"v":4.35},{"d":4,"c":0.35,"v":4.35},{"d":5,"c":0.35,"v":4.3},{"d":6,"c":0.35,"v":4.3},{"d":7,"c":0.35,"v":4.3},{"d":8,"c":0.35,"v":4.25},{"d":9,"c":0.35,"v":4.25},{"d":10,"c":0.35,"v":4.2},{"d":11,"c":0.35,"v":4.2},{"d":12,"c":0.35,"v":4.2},{"d":13,"c":0.35,"v":4.15},{"d":14,"c":0.35,"v":4.15},{"d":15,"c":0.35,"v":4.1},{"d":16,"c":0.35,"v":4.1},{"d":17,"c":0.35,"v":4.05},{"d":18,"c":0.35,"v":4.05},{"d":19,"c":0.35,"v":4.0},{"d":20,"c":0.35,"v":4.0},
{"d":1,"c":0.4,"v":5.0},{"d":2,"c":0.4,"v":5.0},{"d":3,"c":0.4,"v":4.95},{"d":4,"c":0.4,"v":4.95},{"d":5,"c":0.4,"v":4.95},{"d":6,"c":0.4,"v":4.9},{"d":7,"c":0.4,"v":4.9},{"d":8,"c":0.4,"v":4.85},{"d":9,"c":0.4,"v":4.85},{"d":10,"c":0.4,"v":4.8},{"d":11,"c":0.4,"v":4.8},{"d":12,"c":0.4,"v":4.75},{"d":13,"c":0.4,"v":4.75},{"d":14,"c":0.4,"v":4.7},{"d":15,"c":0.4,"v":4.7},{"d":16,"c":0.4,"v":4.65},{"d":17,"c":0.4,"v":4.65},{"d":18,"c":0.4,"v":4.6},{"d":19,"c":0.4,"v":4.55},{"d":20,"c":0.4,"v":4.55},
{"d":1,"c":0.45,"v":5.7},{"d":2,"c":0.45,"v":5.7},{"d":3,"c":0.45,"v":5.65},{"d":4,"c":0.45,"v":5.6},{"d":5,"c":0.45,"v":5.6},{"d":6,"c":0.45,"v":5.55},{"d":7,"c":0.45,"v":5.5},{"d":8,"c":0.45,"v":5.45},{"d":9,"c":0.45,"v":5.4},{"d":10,"c":0.45,"v":5.4},{"d":11,"c":0.45,"v":5.35},{"d":12,"c":0.45,"v":5.3},{"d":13,"c":0.45,"v":5.3},{"d":14,"c":0.45,"v":5.3},{"d":15,"c":0.45,"v":5.3},{"d":16,"c":0.45,"v":5.2},{"d":17,"c":0.45,"v":5.2},{"d":18,"c":0.45,"v":5.15},{"d":19,"c":0.45,"v":5.1},{"d":20,"c":0.45,"v":5.05},
{"d":1,"c":0.5,"v":6.45},{"d":2,"c":0.5,"v":6.45},{"d":3,"c":0.5,"v":6.45},{"d":4,"c":0.5,"v":6.4},{"d":5,"c":0.5,"v":6.3},{"d":6,"c":0.5,"v":6.25},{"d":7,"c":0.5,"v":6.15},{"d":8,"c":0.5,"v":6.1},{"d":9,"c":0.5,"v":6.05},{"d":10,"c":0.5,"v":6.0},{"d":11,"c":0.5,"v":6.0},{"d":12,"c":0.5,"v":5.95},{"d":13,"c":0.5,"v":5.9},{"d":14,"c":0.5,"v":5.9},{"d":15,"c":0.5,"v":5.9},{"d":16,"c":0.5,"v":5.8},{"d":17,"c":0.5,"v":5.75},{"d":18,"c":0.5,"v":5.7},{"d":19,"c":0.5,"v":5.65},{"d":20,"c":0.5,"v":5.6},
{"d":1,"c":0.55,"v":7.35},{"d":2,"c":0.55,"v":7.3},{"d":3,"c":0.55,"v":7.3},{"d":4,"c":0.55,"v":7.25},{"d":5,"c":0.55,"v":7.2},{"d":6,"c":0.55,"v":7.1},{"d":7,"c":0.55,"v":7.05},{"d":8,"c":0.55,"v":6.95},{"d":9,"c":0.55,"v":6.9},{"d":10,"c":0.55,"v":6.85},{"d":11,"c":0.55,"v":6.8},{"d":12,"c":0.55,"v":6.75},{"d":13,"c":0.55,"v":6.7},{"d":14,"c":0.55,"v":6.65},{"d":15,"c":0.55,"v":6.55},{"d":16,"c":0.55,"v":6.45},{"d":17,"c":0.55,"v":6.4},{"d":18,"c":0.55,"v":6.35},{"d":19,"c":0.55,"v":6.25},{"d":20,"c":0.55,"v":6.15},
{"d":1,"c":0.6,"v":8.3},{"d":2,"c":0.6,"v":8.25},{"d":3,"c":0.6,"v":8.2},{"d":4,"c":0.6,"v":8.1},{"d":5,"c":0.6,"v":8.05},{"d":6,"c":0.6,"v":7.95},{"d":7,"c":0.6,"v":7.9},{"d":8,"c":0.6,"v":7.8},{"d":9,"c":0.6,"v":7.75},{"d":10,"c":0.6,"v":7.7},{"d":11,"c":0.6,"v":7.55},{"d":12,"c":0.6,"v":7.45},{"d":13,"c":0.6,"v":7.35},{"d":14,"c":0.6,"v":7.25},{"d":15,"c":0.6,"v":7.2},{"d":16,"c":0.6,"v":7.1},{"d":17,"c":0.6,"v":7.05},{"d":18,"c":0.6,"v":6.95},{"d":19,"c":0.6,"v":6.9},{"d":20,"c":0.6,"v":6.8},
{"d":1,"c":0.65,"v":9.3},{"d":2,"c":0.65,"v":9.3},{"d":3,"c":0.65,"v":9.2},{"d":4,"c":0.65,"v":9.2},{"d":5,"c":0.65,"v":9.1},{"d":6,"c":0.65,"v":9.0},{"d":7,"c":0.65,"v":9.0},{"d":8,"c":0.65,"v":8.8},{"d":9,"c":0.65,"v":8.7},{"d":10,"c":0.65,"v":8.6},{"d":11,"c":0.65,"v":8.45},{"d":12,"c":0.65,"v":8.25},{"d":13,"c":0.65,"v":8.1},{"d":14,"c":0.65,"v":7.95},{"d":15,"c":0.65,"v":7.9},{"d":16,"c":0.65,"v":7.8},{"d":17,"c":0.65,"v":7.7},{"d":18,"c":0.65,"v":7.6},{"d":19,"c":0.65,"v":7.5},{"d":20,"c":0.65,"v":7.4},
{"d":1,"c":0.7,"v":10.5},{"d":2,"c":0.7,"v":10.5},{"d":3,"c":0.7,"v":10.4},{"d":4,"c":0.7,"v":10.4},{"d":5,"c":0.7,"v":10.3},{"d":6,"c":0.7,"v":10.1},{"d":7,"c":0.7,"v":10.05},{"d":8,"c":0.7,"v":10.0},{"d":9,"c":0.7,"v":9.7},{"d":10,"c":0.7,"v":9.6},{"d":11,"c":0.7,"v":9.4},{"d":12,"c":0.7,"v":9.3},{"d":13,"c":0.7,"v":9.0},{"d":14,"c":0.7,"v":8.9},{"d":15,"c":0.7,"v":8.8},{"d":16,"c":0.7,"v":8.7},{"d":17,"c":0.7,"v":8.55},{"d":18,"c":0.7,"v":8.4},{"d":19,"c":0.7,"v":8.2},{"d":20,"c":0.7,"v":8.1},
{"d":1,"c":0.75,"v":11.7},{"d":2,"c":0.75,"v":11.7},{"d":3,"c":0.75,"v":11.7},{"d":4,"c":0.75,"v":11.8},{"d":5,"c":0.75,"v":11.7},{"d":6,"c":0.75,"v":11.4},{"d":7,"c":0.75,"v":11.3},{"d":8,"c":0.75,"v":11.2},{"d":9,"c":0.75,"v":10.9},{"d":10,"c":0.75,"v":10.7},{"d":11,"c":0.75,"v":10.45},{"d":12,"c":0.75,"v":10.3},{"d":13,"c":0.75,"v":10.1},{"d":14,"c":0.75,"v":9.9},{"d":15,"c":0.75,"v":9.7},{"d":16,"c":0.75,"v":9.6},{"d":17,"c":0.75,"v":9.45},{"d":18,"c":0.75,"v":9.2},{"d":19,"c":0.75,"v":9.0},{"d":20,"c":0.75,"v":8.75},
{"d":1,"c":0.8,"v":13.1},{"d":2,"c":0.8,"v":13.2},{"d":3,"c":0.8,"v":13.4},{"d":4,"c":0.8,"v":13.4},{"d":5,"c":0.8,"v":13.2},{"d":6,"c":0.8,"v":12.9},{"d":7,"c":0.8,"v":12.75},{"d":8,"c":0.8,"v":12.4},{"d":9,"c":0.8,"v":12.1},{"d":10,"c":0.8,"v":11.8},{"d":11,"c":0.8,"v":11.5},{"d":12,"c":0.8,"v":11.3},{"d":13,"c":0.8,"v":11.1},{"d":14,"c":0.8,"v":10.9},{"d":15,"c":0.8,"v":10.6},{"d":16,"c":0.8,"v":10.5},{"d":17,"c":0.8,"v":10.3},{"d":18,"c":0.8,"v":10.1},{"d":19,"c":0.8,"v":9.8},{"d":20,"c":0.8,"v":9.6},
{"d":1,"c":0.85,"v":14.3},{"d":2,"c":0.85,"v":14.6},{"d":3,"c":0.85,"v":15.0},{"d":4,"c":0.85,"v":15.0},{"d":5,"c":0.85,"v":14.9},{"d":6,"c":0.85,"v":14.7},{"d":7,"c":0.85,"v":14.3},{"d":8,"c":0.85,"v":13.9},{"d":9,"c":0.85,"v":13.4},{"d":10,"c":0.85,"v":13.1},{"d":11,"c":0.85,"v":12.7},{"d":12,"c":0.85,"v":12.4},{"d":13,"c":0.85,"v":12.1},{"d":14,"c":0.85,"v":11.9},{"d":15,"c":0.85,"v":11.6},{"d":16,"c":0.85,"v":11.3},{"d":17,"c":0.85,"v":11.0},{"d":18,"c":0.85,"v":10.6},{"d":19,"c":0.85,"v":10.3},{"d":20,"c":0.85,"v":10.1},
{"d":1,"c":0.9,"v":14.6},{"d":2,"c":0.9,"v":15.3},{"d":3,"c":0.9,"v":16.1},{"d":4,"c":0.9,"v":16.4},{"d":5,"c":0.9,"v":16.6},{"d":6,"c":0.9,"v":16.5},{"d":7,"c":0.9,"v":16.2},{"d":8,"c":0.9,"v":15.7},{"d":9,"c":0.9,"v":15.3},{"d":10,"c":0.9,"v":14.9},{"d":11,"c":0.9,"v":14.3},{"d":12,"c":0.9,"v":13.8},{"d":13,"c":0.9,"v":13.4},{"d":14,"c":0.9,"v":13.0},{"d":15,"c":0.9,"v":12.6},{"d":16,"c":0.9,"v":12.0},{"d":17,"c":0.9,"v":11.7},{"d":18,"c":0.9,"v":11.4},{"d":19,"c":0.9,"v":11.1},{"d":20,"c":0.9,"v":10.8},
{"d":1,"c":0.95,"v":13.2},{"d":2,"c":0.95,"v":15.0},{"d":3,"c":0.95,"v":16.4},{"d":4,"c":0.95,"v":17.2},{"d":5,"c":0.95,"v":17.9},{"d":6,"c":0.95,"v":18.0},{"d":7,"c":0.95,"v":17.9},{"d":8,"c":0.95,"v":17.5},{"d":9,"c":0.95,"v":16.6},{"d":10,"c":0.95,"v":16.1},{"d":11,"c":0.95,"v":15.6},{"d":12,"c":0.95,"v":15.1},{"d":13,"c":0.95,"v":14.6},{"d":14,"c":0.95,"v":14.0},{"d":15,"c":0.95,"v":13.5},{"d":16,"c":0.95,"v":13.1},{"d":17,"c":0.95,"v":12.7},{"d":18,"c":0.95,"v":12.3},{"d":19,"c":0.95,"v":11.9},{"d":20,"c":0.95,"v":11.6},
{"d":1,"c":1.0,"v":10.0},{"d":2,"c":1.0,"v":13.5},{"d":3,"c":1.0,"v":16.5},{"d":4,"c":1.0,"v":17.8},{"d":5,"c":1.0,"v":18.6},{"d":6,"c":1.0,"v":19.0},{"d":7,"c":1.0,"v":19.1},{"d":8,"c":1.0,"v":18.5},{"d":9,"c":1.0,"v":17.8},{"d":10,"c":1.0,"v":17.4},{"d":11,"c":1.0,"v":16.9},{"d":12,"c":1.0,"v":16.3},{"d":13,"c":1.0,"v":15.8},{"d":14,"c":1.0,"v":15.2},{"d":15,"c":1.0,"v":14.6},{"d":16,"c":1.0,"v":13.9},{"d":17,"c":1.0,"v":13.4},{"d":18,"c":1.0,"v":13.0},{"d":19,"c":1.0,"v":12.6},{"d":20,"c":1.0,"v":12.2}
],
"ka":[
{"g":"a10","k":10,"i":0,"d":1,"c":0.261},{"g":"a10","k":10,"i":1,"d":5,"c":0.271},{"g":"a10","k":10,"i":2,"d":10,"c":0.288},{"g":"a10","k":10,"i":3,"d":15,"c":0.305},{"g":"a10","k":10,"i":4,"d":20,"c":0.324},
{"g":"a20","k":20,"i":0,"d":1,"c":0.461},{"g":"a20","k":20,"i":1,"d":4.85,"c":0.482},{"g":"a20","k":20,"i":2,"d":7.65,"c":0.51},{"g":"a20","k":20,"i":3,"d":10.44,"c":0.545},{"g":"a20","k":20,"i":4,"d":13.2,"c":0.594},{"g":"a20","k":20,"i":5,"d":16,"c":0.649},{"g":"a20","k":20,"i":6,"d":20,"c":0.705},
{"g":"a30","k":30,"i":0,"d":1,"c":0.592},{"g":"a30","k":30,"i":1,"d":3.46,"c":0.613},{"g":"a30","k":30,"i":2,"d":6.25,"c":0.655},{"g":"a30","k":30,"i":3,"d":9.04,"c":0.717},{"g":"a30","k":30,"i":4,"d":11.84,"c":0.815},{"g":"a30","k":30,"i":5,"d":14.07,"c":0.912},{"g":"a30","k":30,"i":6,"d":15.9,"c":1.0},
{"g":"a40","k":40,"i":0,"d":1,"c":0.687},{"g":"a40","k":40,"i":1,"d":3.46,"c":0.736},{"g":"a40","k":40,"i":2,"d":5.83,"c":0.776},{"g":"a40","k":40,"i":3,"d":7.65,"c":0.836},{"g":"a40","k":40,"i":4,"d":9.04,"c":0.899},{"g":"a40","k":40,"i":5,"d":10.5,"c":1.0},
{"g":"a50","k":50,"i":0,"d":1,"c":0.762},{"g":"a50","k":50,"i":1,"d":3.46,"c":0.815},{"g":"a50","k":50,"i":2,"d":5.69,"c":0.884},{"g":"a50","k":50,"i":3,"d":7.09,"c":0.947},{"g":"a50","k":50,"i":4,"d":7.98,"c":1.0},
{"g":"a60","k":60,"i":0,"d":1,"c":0.815},{"g":"a60","k":60,"i":1,"d":2.62,"c":0.861},{"g":"a60","k":60,"i":2,"d":4.3,"c":0.919},{"g":"a60","k":60,"i":3,"d":5.55,"c":0.975},{"g":"a60","k":60,"i":4,"d":6.1,"c":1.0},
{"g":"a70","k":70,"i":0,"d":1,"c":0.854},{"g":"a70","k":70,"i":1,"d":2.62,"c":0.905},{"g":"a70","k":70,"i":2,"d":4.02,"c":0.961},{"g":"a70","k":70,"i":3,"d":5,"c":1.0},
{"g":"a80","k":80,"i":0,"d":1,"c":0.885},{"g":"a80","k":80,"i":1,"d":2.34,"c":0.933},{"g":"a80","k":80,"i":2,"d":3.46,"c":0.982},{"g":"a80","k":80,"i":3,"d":3.88,"c":1.0},
{"g":"a90","k":90,"i":0,"d":1,"c":0.908},{"g":"a90","k":90,"i":1,"d":2.06,"c":0.947},{"g":"a90","k":90,"i":2,"d":2.9,"c":0.986},{"g":"a90","k":90,"i":3,"d":3.18,"c":1.0},
{"g":"a100","k":100,"i":0,"d":1,"c":0.93},{"g":"a100","k":100,"i":1,"d":1.92,"c":0.968},{"g":"a100","k":100,"i":2,"d":2.48,"c":0.996},
{"g":"a110","k":110,"i":0,"d":1,"c":0.95},{"g":"a110","k":110,"i":1,"d":1.64,"c":0.978},{"g":"a110","k":110,"i":2,"d":2.06,"c":0.996},
{"g":"a120","k":120,"i":0,"d":1,"c":0.972},{"g":"a120","k":120,"i":1,"d":1.5,"c":0.992},
{"g":"a130","k":130,"i":0,"d":1,"c":0.993},{"g":"a130","k":130,"i":1,"d":1.2,"c":1.0}
],
"kb":[
{"g":"b4","k":4,"i":0,"d":1,"c":0.186},{"g":"b4","k":4,"i":1,"d":10.8,"c":0.197},{"g":"b4","k":4,"i":2,"d":20,"c":0.207},
{"g":"b6","k":6,"i":0,"d":1,"c":0.325},{"g":"b6","k":6,"i":1,"d":5,"c":0.337},{"g":"b6","k":6,"i":2,"d":10.8,"c":0.353},{"g":"b6","k":6,"i":3,"d":15,"c":0.366},{"g":"b6","k":6,"i":4,"d":20,"c":0.378},
{"g":"b8","k":8,"i":0,"d":1,"c":0.443},{"g":"b8","k":8,"i":1,"d":5.28,"c":0.471},{"g":"b8","k":8,"i":2,"d":10.97,"c":0.509},{"g":"b8","k":8,"i":3,"d":16.4,"c":0.541},{"g":"b8","k":8,"i":4,"d":20,"c":0.552},
{"g":"b10","k":10,"i":0,"d":1,"c":0.544},{"g":"b10","k":10,"i":1,"d":5.28,"c":0.583},{"g":"b10","k":10,"i":2,"d":9.44,"c":0.638},{"g":"b10","k":10,"i":3,"d":13.6,"c":0.687},{"g":"b10","k":10,"i":4,"d":16.4,"c":0.708},{"g":"b10","k":10,"i":5,"d":20,"c":0.722},
{"g":"b12","k":12,"i":0,"d":1,"c":0.631},{"g":"b12","k":12,"i":1,"d":3.89,"c":0.668},{"g":"b12","k":12,"i":2,"d":9.03,"c":0.738},{"g":"b12","k":12,"i":3,"d":12.2,"c":0.795},{"g":"b12","k":12,"i":4,"d":15,"c":0.847},{"g":"b12","k":12,"i":5,"d":17.8,"c":0.878},{"g":"b12","k":12,"i":6,"d":20,"c":0.891},
{"g":"b14","k":14,"i":0,"d":1,"c":0.701},{"g":"b14","k":14,"i":1,"d":3.89,"c":0.743},{"g":"b14","k":14,"i":2,"d":6.67,"c":0.791},{"g":"b14","k":14,"i":3,"d":9.44,"c":0.847},{"g":"b14","k":14,"i":4,"d":12.2,"c":0.917},{"g":"b14","k":14,"i":5,"d":14.86,"c":1.0},
{"g":"b16","k":16,"i":0,"d":1,"c":0.759},{"g":"b16","k":16,"i":1,"d":2.5,"c":0.784},{"g":"b16","k":16,"i":2,"d":5.56,"c":0.842},{"g":"b16","k":16,"i":3,"d":6.67,"c":0.903},{"g":"b16","k":16,"i":4,"d":7.72,"c":1.0},
{"g":"b18","k":18,"i":0,"d":1,"c":0.805},{"g":"b18","k":18,"i":1,"d":3.33,"c":0.847},{"g":"b18","k":18,"i":2,"d":5.28,"c":0.91},{"g":"b18","k":18,"i":3,"d":6.25,"c":1.0},
{"g":"b20","k":20,"i":0,"d":1,"c":0.84},{"g":"b20","k":20,"i":1,"d":3.06,"c":0.882},{"g":"b20","k":20,"i":2,"d":4.44,"c":0.937},{"g":"b20","k":20,"i":3,"d":5.28,"c":0.997},
{"g":"b22","k":22,"i":0,"d":1,"c":0.875},{"g":"b22","k":22,"i":1,"d":2.78,"c":0.917},{"g":"b22","k":22,"i":2,"d":3.89,"c":0.972},{"g":"b22","k":22,"i":3,"d":4.17,"c":1.0},
{"g":"b24","k":24,"i":0,"d":1,"c":0.903},{"g":"b24","k":24,"i":1,"d":2.5,"c":0.944},{"g":"b24","k":24,"i":2,"d":3.33,"c":1.0},
{"g":"b26","k":26,"i":0,"d":1,"c":0.923},{"g":"b26","k":26,"i":1,"d":2.22,"c":0.965},{"g":"b26","k":26,"i":2,"d":2.78,"c":1.0},
{"g":"b28","k":28,"i":0,"d":1,"c":0.944},{"g":"b28","k":28,"i":1,"d":1.94,"c":0.979},{"g":"b28","k":28,"i":2,"d":2.28,"c":1.0},
{"g":"b30","k":30,"i":0,"d":1,"c":0.961},{"g":"b30","k":30,"i":1,"d":1.67,"c":0.989},{"g":"b30","k":30,"i":2,"d":1.9,"c":1.0},
{"g":"b32","k":32,"i":0,"d":1.05,"c":0.979},{"g":"b32","k":32,"i":1,"d":1.39,"c":0.993},
{"g":"b34","k":34,"i":0,"d":1.1,"c":0.994},{"g":"b34","k":34,"i":1,"d":1.28,"c":1.0}
],
"kc":[
{"g":"c2","k":2,"i":0,"d":1,"c":0.134},{"g":"c2","k":2,"i":1,"d":4,"c":0.135},{"g":"c2","k":2,"i":2,"d":8,"c":0.138},{"g":"c2","k":2,"i":3,"d":11,"c":0.137},{"g":"c2","k":2,"i":4,"d":14,"c":0.139},{"g":"c2","k":2,"i":5,"d":17,"c":0.141},{"g":"c2","k":2,"i":6,"d":20,"c":0.142},
{"g":"c4","k":4,"i":0,"d":1,"c":0.322},{"g":"c4","k":4,"i":1,"d":3,"c":0.323},{"g":"c4","k":4,"i":2,"d":5.23,"c":0.327},{"g":"c4","k":4,"i":3,"d":8,"c":0.333},{"g":"c4","k":4,"i":4,"d":10.8,"c":0.336},{"g":"c4","k":4,"i":5,"d":13,"c":0.34},{"g":"c4","k":4,"i":6,"d":14.96,"c":0.343},{"g":"c4","k":4,"i":7,"d":17,"c":0.346},{"g":"c4","k":4,"i":8,"d":18.86,"c":0.352},{"g":"c4","k":4,"i":9,"d":20,"c":0.352},
{"g":"c6","k":6,"i":0,"d":1,"c":0.473},{"g":"c6","k":6,"i":1,"d":3,"c":0.473},{"g":"c6","k":6,"i":2,"d":5.23,"c":0.481},{"g":"c6","k":6,"i":3,"d":8,"c":0.493},{"g":"c6","k":6,"i":4,"d":10.8,"c":0.498},{"g":"c6","k":6,"i":5,"d":13.6,"c":0.509},{"g":"c6","k":6,"i":6,"d":16.4,"c":0.518},{"g":"c6","k":6,"i":7,"d":18.6,"c":0.528},{"g":"c6","k":6,"i":8,"d":20,"c":0.538},
{"g":"c8","k":8,"i":0,"d":1,"c":0.588},{"g":"c8","k":8,"i":1,"d":4.95,"c":0.597},{"g":"c8","k":8,"i":2,"d":6.6,"c":0.604},{"g":"c8","k":8,"i":3,"d":9.96,"c":0.618},{"g":"c8","k":8,"i":4,"d":12.18,"c":0.639},{"g":"c8","k":8,"i":5,"d":14.1,"c":0.654},{"g":"c8","k":8,"i":6,"d":16.4,"c":0.664},{"g":"c8","k":8,"i":7,"d":18.6,"c":0.68},{"g":"c8","k":8,"i":8,"d":20,"c":0.694},
{"g":"c10","k":10,"i":0,"d":1,"c":0.682},{"g":"c10","k":10,"i":1,"d":3.84,"c":0.684},{"g":"c10","k":10,"i":2,"d":6.9,"c":0.698},{"g":"c10","k":10,"i":3,"d":8,"c":0.698},{"g":"c10","k":10,"i":4,"d":9.1,"c":0.716},{"g":"c10","k":10,"i":5,"d":11.6,"c":0.733},{"g":"c10","k":10,"i":6,"d":14.1,"c":0.758},{"g":"c10","k":10,"i":7,"d":16.4,"c":0.774},{"g":"c10","k":10,"i":8,"d":18.6,"c":0.802},{"g":"c10","k":10,"i":9,"d":19.5,"c":0.82},{"g":"c10","k":10,"i":10,"d":20,"c":0.841},
{"g":"c12","k":12,"i":0,"d":1,"c":0.76},{"g":"c12","k":12,"i":1,"d":4.06,"c":0.758},{"g":"c12","k":12,"i":2,"d":6.06,"c":0.774},{"g":"c12","k":12,"i":3,"d":8.84,"c":0.795},{"g":"c12","k":12,"i":4,"d":11.6,"c":0.83},{"g":"c12","k":12,"i":5,"d":14.1,"c":0.857},{"g":"c12","k":12,"i":6,"d":16.4,"c":0.899},{"g":"c12","k":12,"i":7,"d":18.6,"c":0.94},{"g":"c12","k":12,"i":8,"d":20,"c":0.982},
{"g":"c14","k":14,"i":0,"d":1,"c":0.833},{"g":"c14","k":14,"i":1,"d":2.5,"c":0.825},{"g":"c14","k":14,"i":2,"d":3.84,"c":0.816},{"g":"c14","k":14,"i":3,"d":5.5,"c":0.822},{"g":"c14","k":14,"i":4,"d":6.9,"c":0.837},{"g":"c14","k":14,"i":5,"d":8.84,"c":0.871},{"g":"c14","k":14,"i":6,"d":11.6,"c":0.906},{"g":"c14","k":14,"i":7,"d":12.7,"c":0.927},{"g":"c14","k":14,"i":8,"d":14.1,"c":0.954},{"g":"c14","k":14,"i":9,"d":15.9,"c":1.0},
{"g":"c14b","k":14,"i":0,"d":1.05,"c":0.927},{"g":"c14b","k":14,"i":1,"d":1.3,"c":0.96},{"g":"c14b","k":14,"i":2,"d":1.47,"c":0.996},
{"g":"c16","k":16,"i":0,"d":2.45,"c":0.996},{"g":"c16","k":16,"i":1,"d":2.5,"c":0.95},{"g":"c16","k":16,"i":2,"d":2.6,"c":0.9},{"g":"c16","k":16,"i":3,"d":3.28,"c":0.885},{"g":"c16","k":16,"i":4,"d":5.05,"c":0.872},{"g":"c16","k":16,"i":5,"d":6.9,"c":0.899},{"g":"c16","k":16,"i":6,"d":8,"c":0.913},{"g":"c16","k":16,"i":7,"d":9.7,"c":0.94},{"g":"c16","k":16,"i":8,"d":11.35,"c":0.975},{"g":"c16","k":16,"i":9,"d":12.7,"c":1.0},
{"g":"c18","k":18,"i":0,"d":3.98,"c":0.996},{"g":"c18","k":18,"i":1,"d":4.53,"c":0.947},{"g":"c18","k":18,"i":2,"d":6.06,"c":0.954},{"g":"c18","k":18,"i":3,"d":8,"c":0.971},{"g":"c18","k":18,"i":4,"d":8.84,"c":0.999}
],
"la":[{"t":"2e+07","d":5.0,"c":0.484},{"t":"4e+07","d":4.35,"c":0.748},{"t":"6e+07","d":4.97,"c":0.94}],
"lb":[{"t":"4e+06","d":10.97,"c":0.199},{"t":"8e+06","d":10.97,"c":0.509},{"t":"1.2e+07","d":9.03,"c":0.74},{"t":"1.6e+07","d":5.56,"c":0.843}],
"lc":[{"t":"1.6e+07","d":5.05,"c":0.869},{"t":"1.2e+07","d":4.06,"c":0.757},{"t":"8e+06","d":4.91,"c":0.598},{"t":"4e+06","d":10.93,"c":0.334}]
},
"concat":[
{"width":243,"height":15.6,"view":{"stroke":null},
 "data":{"values":[{"lo":2.1,"hi":135.4}]},
 "title":{"text":"a)","anchor":"start","frame":"group","font":"DejaVu Sans","fontSize":30,"fontWeight":"normal","color":"#000","dx":-64.7,"dy":54.3,"offset":0,"baseline":"alphabetic"},
 "mark":{"type":"rect","fill":{"gradient":"linear","x1":0,"y1":0,"x2":1,"y2":0,"stops":[{"offset":0,"color":"#000000"},{"offset":1,"color":"#ffffff"}]},"stroke":"#222222","strokeWidth":1},
 "encoding":{"x":{"field":"lo","type":"quantitative","scale":{"domain":[-3.28,141.8],"nice":false,"zero":false},"axis":{"orient":"top","values":[20,40,60,80,100,120],"labelExpr":"datum.value==120?'120x10⁶':datum.label","tickSize":9.4,"tickColor":"#000","tickWidth":1,"labelFontSize":13,"labelPadding":3,"labelOverlap":false,"labelFlush":false,"title":"number of antiviral courses (GTAP)","titleFontSize":17.5,"titlePadding":18.7}},"x2":{"field":"hi"}}},
{"width":250.4,"height":15.6,"view":{"stroke":null},
 "data":{"values":[{"lo":1.94,"hi":37.37}]},
 "title":{"text":"b)","anchor":"start","frame":"group","font":"DejaVu Sans","fontSize":30,"fontWeight":"normal","color":"#000","dx":-60.6,"dy":54.3,"offset":0,"baseline":"alphabetic"},
 "mark":{"type":"rect","fill":{"gradient":"linear","x1":0,"y1":0,"x2":1,"y2":0,"stops":[{"offset":0,"color":"#000000"},{"offset":1,"color":"#ffffff"}]},"stroke":"#222222","strokeWidth":1},
 "encoding":{"x":{"field":"lo","type":"quantitative","scale":{"domain":[0.36,40.3],"nice":false,"zero":false},"axis":{"orient":"top","values":[5,10,15,20,25,30,35],"labelExpr":"datum.value==35?'35x10⁶':datum.label","tickSize":9.4,"tickColor":"#000","tickWidth":1,"labelFontSize":13,"labelPadding":3,"labelOverlap":false,"labelFlush":false,"title":"number of antiviral courses (TAP)","titleFontSize":17.5,"titlePadding":18.7,"titleX":124.4}},"x2":{"field":"hi"}}},
{"width":240.7,"height":21.6,"view":{"stroke":null},
 "data":{"values":[{"lo":1.17,"hi":19.09}]},
 "title":{"text":"c)","anchor":"start","frame":"group","font":"DejaVu Sans","fontSize":30,"fontWeight":"normal","color":"#000","dx":-62.6,"dy":54.3,"offset":0,"baseline":"alphabetic"},
 "mark":{"type":"rect","fill":{"gradient":"linear","x1":0,"y1":0,"x2":1,"y2":0,"stops":[{"offset":0,"color":"#000000"},{"offset":1,"color":"#ffffff"}]},"stroke":"#222222","strokeWidth":1},
 "encoding":{"x":{"field":"lo","type":"quantitative","scale":{"domain":[0.45,19.78],"nice":false,"zero":false},"axis":{"orient":"top","offset":-6.3,"values":[5,10,15],"labelExpr":"datum.value==15?'15x10⁶':datum.label","tickSize":10.7,"tickColor":"#000","tickWidth":1,"labelFontSize":13,"labelPadding":11.3,"labelOverlap":false,"labelFlush":false,"title":"no. antiviral courses (TAP + Vacc. 70%)","titleFontSize":17.5,"titlePadding":14,"titleX":134.7}},"x2":{"field":"hi"},
 "y":{"datum":0,"type":"quantitative","scale":{"domain":[0,1.412],"nice":false,"zero":false},"axis":null},"y2":{"datum":1}}},
{"width":243,"height":242.6,
 "resolve":{"scale":{"stroke":"independent"}},
 "layer":[
  {"data":{"name":"ha"},"mark":{"type":"rect","binSpacing":0,"strokeWidth":0.8},
   "encoding":{"x":{"field":"d","type":"quantitative","bin":{"step":1,"extent":[0.5,20.5],"nice":false},"scale":{"domain":[0.34,20.71],"nice":false,"zero":false},"axis":{"values":[5,10,15,20],"tickSize":7,"tickColor":"#555","tickWidth":1.5,"labelFontSize":14,"labelPadding":5,"title":"delay period (days)","titleFontSize":17.5,"titlePadding":5}},
   "y":{"field":"c","type":"quantitative","bin":{"step":0.05,"extent":[0.025,1.025],"nice":false},"scale":{"domain":[0.022,1.035],"nice":false,"zero":false},"axis":{"values":[0.2,0.4,0.6,0.8,1.0],"format":".1f","tickSize":8,"tickColor":"#555","tickWidth":1.5,"labelFontSize":14,"labelPadding":4,"title":"compliance rate","titleFontSize":17.5,"titlePadding":12}},
   "color":{"field":"v","type":"quantitative","scale":{"domain":[2.1,135.4],"range":["#000000","#ffffff"],"interpolate":"rgb"},"legend":null},
   "stroke":{"field":"v","type":"quantitative","scale":{"domain":[2.1,135.4],"range":["#000000","#ffffff"],"interpolate":"rgb"},"legend":null}}},
  {"data":{"name":"ka"},"mark":{"type":"line","interpolate":"catmull-rom","strokeWidth":1.3},
   "encoding":{"x":{"field":"d","type":"quantitative"},"y":{"field":"c","type":"quantitative"},"stroke":{"field":"k","type":"quantitative","scale":{"domain":[10,130],"range":["#00ffff","#ff00ff"],"interpolate":"rgb"},"legend":null},"detail":{"field":"g"},"order":{"field":"i"}}},
  {"data":{"name":"la"},"transform":[{"filter":"datum.t=='2e+07'"}],"mark":{"type":"point","shape":"M-1,-0.316L1,-0.316L1,0.316L-1,0.316Z","size":1369,"filled":true,"color":"#ffffff","opacity":1,"strokeWidth":0,"angle":-8},"encoding":{"x":{"field":"d","type":"quantitative"},"y":{"field":"c","type":"quantitative"}}},
  {"data":{"name":"la"},"transform":[{"filter":"datum.t=='2e+07'"}],"mark":{"type":"text","angle":-8,"fontSize":12,"font":"Liberation Sans","color":"#000"},"encoding":{"x":{"field":"d","type":"quantitative"},"y":{"field":"c","type":"quantitative"},"text":{"field":"t"}}},
  {"data":{"name":"la"},"transform":[{"filter":"datum.t=='4e+07'"}],"mark":{"type":"point","shape":"M-1,-0.316L1,-0.316L1,0.316L-1,0.316Z","size":1369,"filled":true,"color":"#ffffff","opacity":1,"strokeWidth":0,"angle":-22},"encoding":{"x":{"field":"d","type":"quantitative"},"y":{"field":"c","type":"quantitative"}}},
  {"data":{"name":"la"},"transform":[{"filter":"datum.t=='4e+07'"}],"mark":{"type":"text","angle":-22,"fontSize":12,"font":"Liberation Sans","color":"#000"},"encoding":{"x":{"field":"d","type":"quantitative"},"y":{"field":"c","type":"quantitative"},"text":{"field":"t"}}},
  {"data":{"name":"la"},"transform":[{"filter":"datum.t=='6e+07'"}],"mark":{"type":"point","shape":"M-1,-0.316L1,-0.316L1,0.316L-1,0.316Z","size":1369,"filled":true,"color":"#ffffff","opacity":1,"strokeWidth":0,"angle":-38},"encoding":{"x":{"field":"d","type":"quantitative"},"y":{"field":"c","type":"quantitative"}}},
  {"data":{"name":"la"},"transform":[{"filter":"datum.t=='6e+07'"}],"mark":{"type":"text","angle":-38,"fontSize":12,"font":"Liberation Sans","color":"#000"},"encoding":{"x":{"field":"d","type":"quantitative"},"y":{"field":"c","type":"quantitative"},"text":{"field":"t"}}}
 ]},
{"width":243.4,"height":242.6,
 "resolve":{"scale":{"stroke":"independent"}},
 "layer":[
  {"data":{"name":"hb"},"mark":{"type":"rect","binSpacing":0,"strokeWidth":0.8},
   "encoding":{"x":{"field":"d","type":"quantitative","bin":{"step":1,"extent":[0.5,20.5],"nice":false},"scale":{"domain":[0.33,20.62],"nice":false,"zero":false},"axis":{"values":[5,10,15,20],"tickSize":7,"tickColor":"#555","tickWidth":1.5,"labelFontSize":14,"labelPadding":5,"title":"delay period (days)","titleFontSize":17.5,"titlePadding":5}},
   "y":{"field":"c","type":"quantitative","bin":{"step":0.05,"extent":[0.025,1.025],"nice":false},"scale":{"domain":[0.019,1.032],"nice":false,"zero":false},"axis":{"values":[0.2,0.4,0.6,0.8,1.0],"format":".1f","tickSize":8,"tickColor":"#555","tickWidth":1.5,"labelFontSize":14,"labelPadding":4,"title":"compliance rate","titleFontSize":17.5,"titlePadding":12}},
   "color":{"field":"v","type":"quantitative","scale":{"domain":[1.94,37.37],"range":["#000000","#ffffff"],"interpolate":"rgb"},"legend":null},
   "stroke":{"field":"v","type":"quantitative","scale":{"domain":[1.94,37.37],"range":["#000000","#ffffff"],"interpolate":"rgb"},"legend":null}}},
  {"data":{"name":"kb"},"mark":{"type":"line","interpolate":"catmull-rom","strokeWidth":1.3},
   "encoding":{"x":{"field":"d","type":"quantitative"},"y":{"field":"c","type":"quantitative"},"stroke":{"field":"k","type":"quantitative","scale":{"domain":[4,34],"range":["#00ffff","#ff00ff"],"interpolate":"rgb"},"legend":null},"detail":{"field":"g"},"order":{"field":"i"}}},
  {"data":{"name":"lb"},"transform":[{"filter":"datum.t=='4e+06'"}],"mark":{"type":"point","shape":"M-1,-0.316L1,-0.316L1,0.316L-1,0.316Z","size":1369,"filled":true,"color":"#ffffff","opacity":1,"strokeWidth":0,"angle":-1},"encoding":{"x":{"field":"d","type":"quantitative"},"y":{"field":"c","type":"quantitative"}}},
  {"data":{"name":"lb"},"transform":[{"filter":"datum.t=='4e+06'"}],"mark":{"type":"text","angle":-1,"fontSize":12,"font":"Liberation Sans","color":"#000"},"encoding":{"x":{"field":"d","type":"quantitative"},"y":{"field":"c","type":"quantitative"},"text":{"field":"t"}}},
  {"data":{"name":"lb"},"transform":[{"filter":"datum.t=='8e+06'"}],"mark":{"type":"point","shape":"M-1,-0.316L1,-0.316L1,0.316L-1,0.316Z","size":1369,"filled":true,"color":"#ffffff","opacity":1,"strokeWidth":0,"angle":-6},"encoding":{"x":{"field":"d","type":"quantitative"},"y":{"field":"c","type":"quantitative"}}},
  {"data":{"name":"lb"},"transform":[{"filter":"datum.t=='8e+06'"}],"mark":{"type":"text","angle":-6,"fontSize":12,"font":"Liberation Sans","color":"#000"},"encoding":{"x":{"field":"d","type":"quantitative"},"y":{"field":"c","type":"quantitative"},"text":{"field":"t"}}},
  {"data":{"name":"lb"},"transform":[{"filter":"datum.t=='1.2e+07'"}],"mark":{"type":"point","shape":"M-1,-0.252L1,-0.252L1,0.252L-1,0.252Z","size":2162,"filled":true,"color":"#ffffff","opacity":1,"strokeWidth":0,"angle":-18},"encoding":{"x":{"field":"d","type":"quantitative"},"y":{"field":"c","type":"quantitative"}}},
  {"data":{"name":"lb"},"transform":[{"filter":"datum.t=='1.2e+07'"}],"mark":{"type":"text","angle":-18,"fontSize":12,"font":"Liberation Sans","color":"#000"},"encoding":{"x":{"field":"d","type":"quantitative"},"y":{"field":"c","type":"quantitative"},"text":{"field":"t"}}},
  {"data":{"name":"lb"},"transform":[{"filter":"datum.t=='1.6e+07'"}],"mark":{"type":"point","shape":"M-1,-0.252L1,-0.252L1,0.252L-1,0.252Z","size":2162,"filled":true,"color":"#ffffff","opacity":1,"strokeWidth":0,"angle":-28},"encoding":{"x":{"field":"d","type":"quantitative"},"y":{"field":"c","type":"quantitative"}}},
  {"data":{"name":"lb"},"transform":[{"filter":"datum.t=='1.6e+07'"}],"mark":{"type":"text","angle":-28,"fontSize":12,"font":"Liberation Sans","color":"#000"},"encoding":{"x":{"field":"d","type":"quantitative"},"y":{"field":"c","type":"quantitative"},"text":{"field":"t"}}}
 ]},
{"width":240.7,"height":241,
 "resolve":{"scale":{"stroke":"independent"}},
 "layer":[
  {"data":{"name":"hc"},"mark":{"type":"rect","binSpacing":0,"strokeWidth":0.8},
   "encoding":{"x":{"field":"d","type":"quantitative","bin":{"step":1,"extent":[0.5,20.5],"nice":false},"scale":{"domain":[0.43,20.52],"nice":false,"zero":false},"axis":{"values":[5,10,15,20],"tickSize":7,"tickColor":"#555","tickWidth":1.5,"labelFontSize":14,"labelPadding":5,"title":"delay period (days)","titleFontSize":17.5,"titlePadding":5}},
   "y":{"field":"c","type":"quantitative","bin":{"step":0.05,"extent":[0.025,1.025],"nice":false},"scale":{"domain":[0.027,1.028],"nice":false,"zero":false},"axis":{"values":[0.2,0.4,0.6,0.8,1.0],"format":".1f","tickSize":8,"tickColor":"#555","tickWidth":1.5,"labelFontSize":14,"labelPadding":4,"title":"compliance rate","titleFontSize":17.5,"titlePadding":12}},
   "color":{"field":"v","type":"quantitative","scale":{"domain":[1.17,19.09],"range":["#000000","#ffffff"],"interpolate":"rgb"},"legend":null},
   "stroke":{"field":"v","type":"quantitative","scale":{"domain":[1.17,19.09],"range":["#000000","#ffffff"],"interpolate":"rgb"},"legend":null}}},
  {"data":{"name":"kc"},"mark":{"type":"line","strokeWidth":1.3},
   "encoding":{"x":{"field":"d","type":"quantitative"},"y":{"field":"c","type":"quantitative"},"stroke":{"field":"k","type":"quantitative","scale":{"domain":[2,18],"range":["#00ffff","#ff00ff"],"interpolate":"rgb"},"legend":null},"detail":{"field":"g"},"order":{"field":"i"}}},
  {"data":{"name":"lc"},"transform":[{"filter":"length(datum.t)==5"}],"mark":{"type":"point","shape":"M-1,-0.316L1,-0.316L1,0.316L-1,0.316Z","size":1369,"filled":true,"color":"#ffffff","opacity":1,"strokeWidth":0},"encoding":{"x":{"field":"d","type":"quantitative"},"y":{"field":"c","type":"quantitative"}}},
  {"data":{"name":"lc"},"transform":[{"filter":"length(datum.t)==7"}],"mark":{"type":"point","shape":"M-1,-0.252L1,-0.252L1,0.252L-1,0.252Z","size":2162,"filled":true,"color":"#ffffff","opacity":1,"strokeWidth":0},"encoding":{"x":{"field":"d","type":"quantitative"},"y":{"field":"c","type":"quantitative"}}},
  {"data":{"name":"lc"},"mark":{"type":"text","fontSize":12,"font":"Liberation Sans","color":"#000"},"encoding":{"x":{"field":"d","type":"quantitative"},"y":{"field":"c","type":"quantitative"},"text":{"field":"t"}}}
 ]}
]
}
